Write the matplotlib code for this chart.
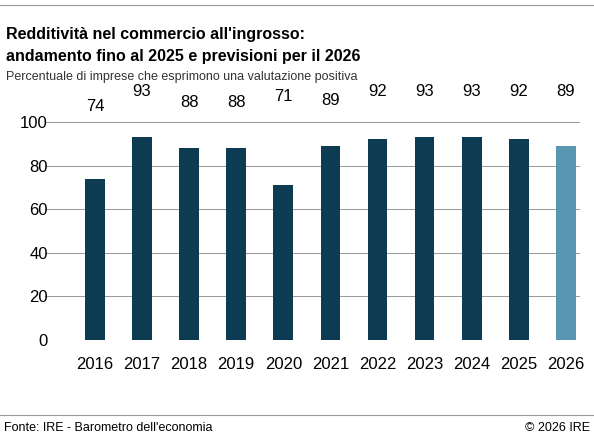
import matplotlib.pyplot as plt

years = ['2016', '2017', '2018', '2019', '2020', '2021', '2022', '2023', '2024', '2025', '2026']
values = [74, 93, 88, 88, 71, 89, 92, 93, 93, 92, 89]
label_y = [107, 114, 109, 109, 111.5, 110, 114, 114, 114, 114, 114]
colors = ['#0c3b52'] * 10 + ['#5896b1']

plt.rcParams['font.family'] = ['Liberation Sans', 'DejaVu Sans']
fig = plt.figure(figsize=(5.94, 4.38), dpi=100)

# axes placed to match the pixel layout of the reference
ax = fig.add_axes([45/594, 98/438, 535/594, (118*2.18)/438])
x = list(range(len(years)))
ax.bar(x, values, width=0.42, color=colors, zorder=2)
ax.set_xlim(-1.06, 10.3)
ax.set_ylim(0, 118)
ax.set_yticks([0, 20, 40, 60, 80, 100])
ax.tick_params(axis='y', length=0, labelsize=12, pad=-2)
ax.tick_params(axis='x', length=0, labelsize=12, pad=12)
ax.set_xticks(x)
ax.set_xticklabels(years)
ax.grid(axis='y', color='#888888', linewidth=0.6, zorder=0)
for s in ax.spines.values():
    s.set_visible(False)
for xi, v, ly in zip(x, values, label_y):
    ax.text(xi, ly, str(v), ha='center', va='center', fontsize=12, zorder=3,
            bbox=dict(facecolor='white', edgecolor='none', pad=2))

fig.add_artist(plt.Line2D([0, 1], [1 - 5/438, 1 - 5/438], color='#999999', linewidth=0.8))
fig.text(6/594, 1 - 35/438, "Redditività nel commercio all'ingrosso:", fontsize=11.5,
         fontweight='bold', va='center')
fig.text(6/594, 1 - 57/438, "andamento fino al 2025 e previsioni per il 2026", fontsize=11.5,
         fontweight='bold', va='center')
fig.text(6/594, 1 - 77/438, "Percentuale di imprese che esprimono una valutazione positiva",
         fontsize=9, va='center', color='#333333')
fig.add_artist(plt.Line2D([0, 1], [1 - 415/438, 1 - 415/438], color='#999999', linewidth=0.8))
fig.text(4/594, 1 - 428/438, "Fonte: IRE - Barometro dell'economia", fontsize=9, va='center')
fig.text(590/594, 1 - 428/438, "© 2026 IRE", fontsize=9, va='center', ha='right')

fig.savefig('out.png', dpi=100)
